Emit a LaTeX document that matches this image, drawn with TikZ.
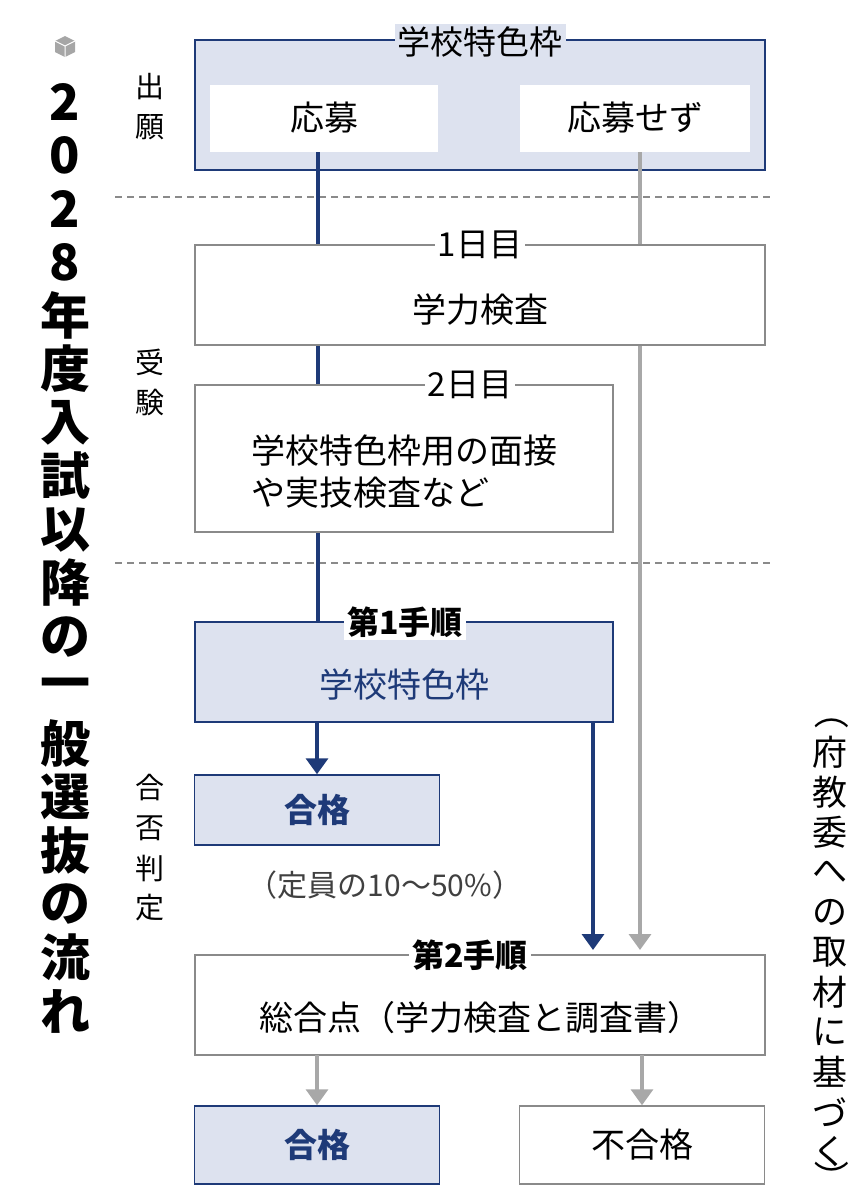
\documentclass[tikz,border=0pt]{standalone}
\usepackage{fontspec}
\setmainfont{Noto Sans CJK JP}
\usetikzlibrary{arrows.meta}
\definecolor{navy}{HTML}{1E3A78}
\definecolor{pale}{HTML}{DDE2EF}
\definecolor{frame}{HTML}{8A8A8A}
\definecolor{flow}{HTML}{A8A8A8}
\tikzset{
  box/.style={draw=frame, line width=1.5pt, fill=white},
  navybox/.style={draw=navy, line width=2.5pt, fill=pale},
  tag/.style={fill=white, inner sep=3pt, font=\fontsize{33}{33}\selectfont},
  txt/.style={font=\fontsize{34}{42}\selectfont, align=center},
  side/.style={font=\fontsize{29}{29}\selectfont, inner sep=0pt},
  navyflow/.style={draw=navy, line width=3.5pt},
  grayflow/.style={draw=flow, line width=3.5pt},
  tip/.style={-{Triangle[length=16pt,width=22pt]}}
}
\begin{document}
\begin{tikzpicture}[x=1pt,y=-1pt]
\useasboundingbox (0,0) rectangle (867,1200);

% title, vertical
\fill[gray!70] (65,36) -- (75,41) -- (75,52) -- (65,57) -- (55,52) -- (55,41) -- cycle;
\draw[white, line width=1pt] (55,41) -- (65,46) -- (75,41) (65,46) -- (65,57);
\foreach \c [count=\i] in {2,0,2,8,年,度,入,試,以,降,の,一,般,選,抜,の,流,れ}
  \node[font=\fontsize{50}{50}\selectfont\bfseries, inner sep=0pt] (t\i) at (65,{48+53.5*\i}) {\c};

% side labels
\node[side] (s1) at (150,87) {出};
\node[side] (s2) at (150,127) {願};
\node[side] (s3) at (150,362) {受};
\node[side] (s4) at (150,402) {験};
\foreach \c [count=\i] in {合,否,判,定}
  \node[side] (g\i) at (150,{748+40*\i}) {\c};

% note, vertical
\node[side, font=\fontsize{35}{35}\selectfont, rotate=-90] (n0) at (832,712) {（};
\foreach \c [count=\i] in {府,教,委,へ,の,取,材,に,基,づ,く}
  \node[side, font=\fontsize{35}{35}\selectfont] (n\i) at (830,{712+40*\i}) {\c};
\node[side, font=\fontsize{35}{35}\selectfont, rotate=-90] (n12) at (832,1178) {）};

% dashed separators
\draw[frame, line width=1.5pt, dash pattern=on 7pt off 5pt] (115,197) -- (770,197);
\draw[frame, line width=1.5pt, dash pattern=on 7pt off 5pt] (115,563) -- (770,563);

% application
\draw[navybox] (195,40) rectangle (765,170);
\node[tag, fill=pale] (frame1) at (480,42) {学校特色枠};
\node[fill=white, minimum width=228pt, minimum height=67pt, txt] (apply) at (324,118) {応募};
\node[fill=white, minimum width=230pt, minimum height=67pt, txt] (skip) at (635,118) {応募せず};

% flows
\coordinate (a1) at (318,152);
\coordinate (a2) at (318,622);
\coordinate (b1) at (640,152);
\coordinate (b2) at (640,950);
\draw[navyflow] (a1) -- (a2);
\draw[grayflow, tip] (b1) -- (b2);

% exams
\draw[box] (195,245) rectangle (765,345);
\node[tag] (day1) at (480,245) {1日目};
\node[txt] (exam) at (480,310) {学力検査};
\draw[box] (195,385) rectangle (613,532);
\node[tag] (day2) at (470,385) {2日目};
\node[txt, align=left] (inter) at (404,472) {学校特色枠用の面接\\や実技検査など};

% judgement
\draw[navybox] (195,622) rectangle (613,722);
\node[tag, fill=white, font=\fontsize{32}{32}\selectfont\bfseries] (step1) at (405,622) {第1手順};
\node[txt, text=navy] (frame2) at (404,685) {学校特色枠};
\node[navybox, line width=1.5pt, minimum width=245pt, minimum height=70pt, txt, text=navy, font=\fontsize{33}{33}\selectfont\bfseries] (pass1) at (317,810) {合格};
\node[txt, text=black!75, font=\fontsize{30}{30}\selectfont] (quota) at (385,885) {（定員の10～50\%）};
\coordinate (d1) at (317,722);
\draw[navyflow, tip] (d1) -- (pass1.north);
\coordinate (c1) at (593,722);
\coordinate (c2) at (593,950);
\draw[navyflow, tip] (c1) -- (c2);

\draw[box] (195,955) rectangle (765,1055);
\node[tag, font=\fontsize{32}{32}\selectfont\bfseries] (step2) at (470,955) {第2手順};
\node[txt] (total) at (480,1018) {総合点（学力検査と調査書）};

\node[navybox, line width=1.5pt, minimum width=245pt, minimum height=78pt, txt, text=navy, font=\fontsize{33}{33}\selectfont\bfseries] (pass2) at (317,1145) {合格};
\node[box, minimum width=245pt, minimum height=78pt, txt] (fail) at (642,1145) {不合格};
\coordinate (e1) at (317,1055);
\coordinate (e2) at (642,1055);
\draw[grayflow, tip] (e1) -- (pass2.north);
\draw[grayflow, tip] (e2) -- (fail.north);
\end{tikzpicture}
\end{document}
